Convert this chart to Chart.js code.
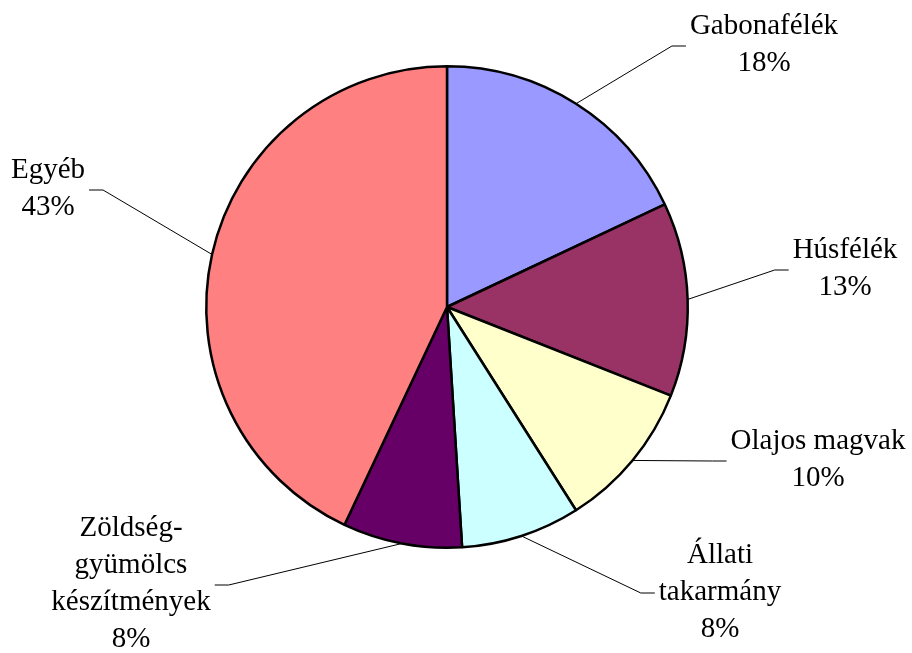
<!DOCTYPE html>
<html>
<head>
<meta charset="UTF-8">
<script src="https://cdn.jsdelivr.net/npm/chart.js@4/dist/chart.umd.min.js"></script>
<style>
  body { margin: 0; background: #fff; }
  #probe { font-family: "Liberation Serif"; font-size: 29px; position: absolute; left: -9999px; }
</style>
</head>
<body>
<span id="probe">Gabonafélék Ázö</span>
<canvas id="pie" width="912" height="653"></canvas>
<script>
// data (share in %)
var categories = ['Gabonafélék', 'Húsfélék', 'Olajos magvak', 'Állati takarmány', 'Zöldség-gyümölcs készítmények', 'Egyéb'];
var shares = [18, 13, 10, 8, 8, 43];
// how each category label is broken into lines
var labelLines = [
  ['Gabonafélék'],
  ['Húsfélék'],
  ['Olajos magvak'],
  ['Állati', 'takarmány'],
  ['Zöldség-', 'gyümölcs', 'készítmények'],
  ['Egyéb']
];
var sliceColors = ['#9999FF', '#993366', '#FFFFCC', '#CCFFFF', '#660066', '#FF8080'];

// label block centres, offset from the pie centre (px)
var labelOffsets = [[317, -261], [398, -37], [371, 154], [273, 286], [-316, 278], [-399, -117]];

var FONT = '29px "Liberation Serif"';
var LINE_H = 37;

// draws the outside labels with leader lines
var outsideLabels = {
  id: 'outsideLabels',
  afterDatasetsDraw: function(chart) {
    var ctx = chart.ctx;
    var meta = chart.getDatasetMeta(0);
    ctx.save();
    ctx.font = FONT;
    ctx.fillStyle = '#000';
    ctx.strokeStyle = '#000';
    ctx.lineWidth = 1;
    ctx.textAlign = 'center';
    ctx.textBaseline = 'alphabetic';
    meta.data.forEach(function(arc, i) {
      var p = arc.getProps(['x', 'y', 'startAngle', 'endAngle', 'outerRadius'], true);
      var mid = (p.startAngle + p.endAngle) / 2;
      var ax = p.x + Math.cos(mid) * p.outerRadius;
      var ay = p.y + Math.sin(mid) * p.outerRadius;

      var lines = labelLines[i].concat([shares[i] + '%']);
      var cx = p.x + labelOffsets[i][0];
      var cy = p.y + labelOffsets[i][1];
      var w = 0;
      lines.forEach(function(t) { w = Math.max(w, ctx.measureText(t).width); });

      // leader line: arc midpoint -> elbow -> label edge
      var right = cx > p.x;
      var sign = right ? 1 : -1;
      var endX = cx - sign * (w / 2 + 4);
      var elbowX = endX - sign * 14;
      ctx.beginPath();
      ctx.moveTo(ax, ay);
      ctx.lineTo(elbowX, cy);
      ctx.lineTo(endX, cy);
      ctx.stroke();

      var y0 = cy - (lines.length - 1) * LINE_H / 2 + 6.5;
      lines.forEach(function(t, k) {
        ctx.fillText(t, cx, y0 + k * LINE_H);
      });
    });
    ctx.restore();
  }
};

function draw() {
  new Chart(document.getElementById('pie'), {
    type: 'pie',
    data: {
      labels: categories,
      datasets: [{
        data: shares,
        backgroundColor: sliceColors,
        borderColor: '#000',
        borderWidth: 2.5
      }]
    },
    options: {
      responsive: false,
      animation: false,
      layout: { padding: { left: 205, right: 223, top: 65, bottom: 104 } },
      plugins: {
        legend: { display: false },
        tooltip: { enabled: false }
      }
    },
    plugins: [outsideLabels]
  });
}

// make sure the serif face is ready before the canvas text is drawn
document.fonts.load(FONT).then(draw, draw);
</script>
</body>
</html>
